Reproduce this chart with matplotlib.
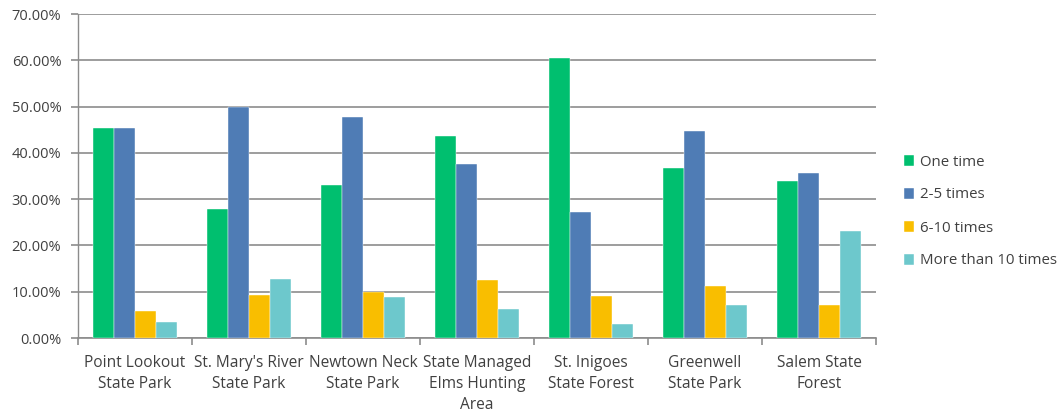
import matplotlib.pyplot as plt
import numpy as np
from matplotlib.ticker import FuncFormatter

# data (percent)
parks = ["Point Lookout\nState Park", "St. Mary's River\nState Park",
         "Newtown Neck\nState Park", "State Managed\nElms Hunting\nArea",
         "St. Inigoes\nState Forest", "Greenwell\nState Park",
         "Salem State\nForest"]
series = ["One time", "2-5 times", "6-10 times", "More than 10 times"]
one_time = [45.4, 27.9, 33.0, 43.6, 60.5, 36.7, 33.9]
two_five = [45.4, 50.0, 47.8, 37.5, 27.3, 44.8, 35.7]
six_ten = [5.8, 9.2, 10.0, 12.5, 9.1, 11.2, 7.1]
more_ten = [3.5, 12.7, 8.9, 6.2, 3.0, 7.1, 23.1]
colors = ["#00BF6F", "#4F7CB5", "#F9BE00", "#6DC8CC"]

plt.rcParams['font.family'] = ['Open Sans', 'DejaVu Sans']

fig = plt.figure(figsize=(10.6, 4.12), dpi=100)
ax = fig.add_axes([78/1060, 1-338/412, (876-78)/1060, (338-14)/412])

x = np.arange(len(parks))
w = 0.183
for i, vals in enumerate([one_time, two_five, six_ten, more_ten]):
    ax.bar(x + (i - 1.5)*w, vals, w, color=colors[i], label=series[i],
           zorder=3, edgecolor='white', linewidth=0.3)

ax.set_xlim(-0.5, len(parks) - 0.5)
ax.set_ylim(0, 70)
ax.set_yticks(np.arange(0, 71, 10))
ax.yaxis.set_major_formatter(FuncFormatter(lambda v, p: "%.2f%%" % v))
ax.yaxis.grid(True, color='#8c8c8c', linewidth=1.2, zorder=0)

# category labels between boundary ticks
ax.set_xticks(x)
ax.set_xticklabels(parks, fontsize=11.2, color='#404040', linespacing=1.45)
ax.set_xticks(np.arange(-0.5, len(parks)), minor=True)
ax.tick_params(axis='x', which='major', length=0, pad=12)
ax.tick_params(axis='x', which='minor', length=5, color='#8c8c8c', width=1.2)
ax.tick_params(axis='y', length=5, color='#8c8c8c', width=1.2,
               labelsize=10.5, labelcolor='#404040', pad=7)

for s in ['top', 'right']:
    ax.spines[s].set_visible(False)
ax.spines['left'].set_color('#8c8c8c')
ax.spines['bottom'].set_color('#8c8c8c')
ax.spines['left'].set_linewidth(1.0)
ax.spines['bottom'].set_linewidth(1.2)

leg = fig.legend(loc='upper left', bbox_to_anchor=(890/1060, 1-141/412),
                 frameon=False, fontsize=10.8, handlelength=0.7,
                 handleheight=0.7, handletextpad=0.4, labelspacing=1.2)
for t in leg.get_texts():
    t.set_color('#404040')

fig.savefig("out.png", dpi=100)
